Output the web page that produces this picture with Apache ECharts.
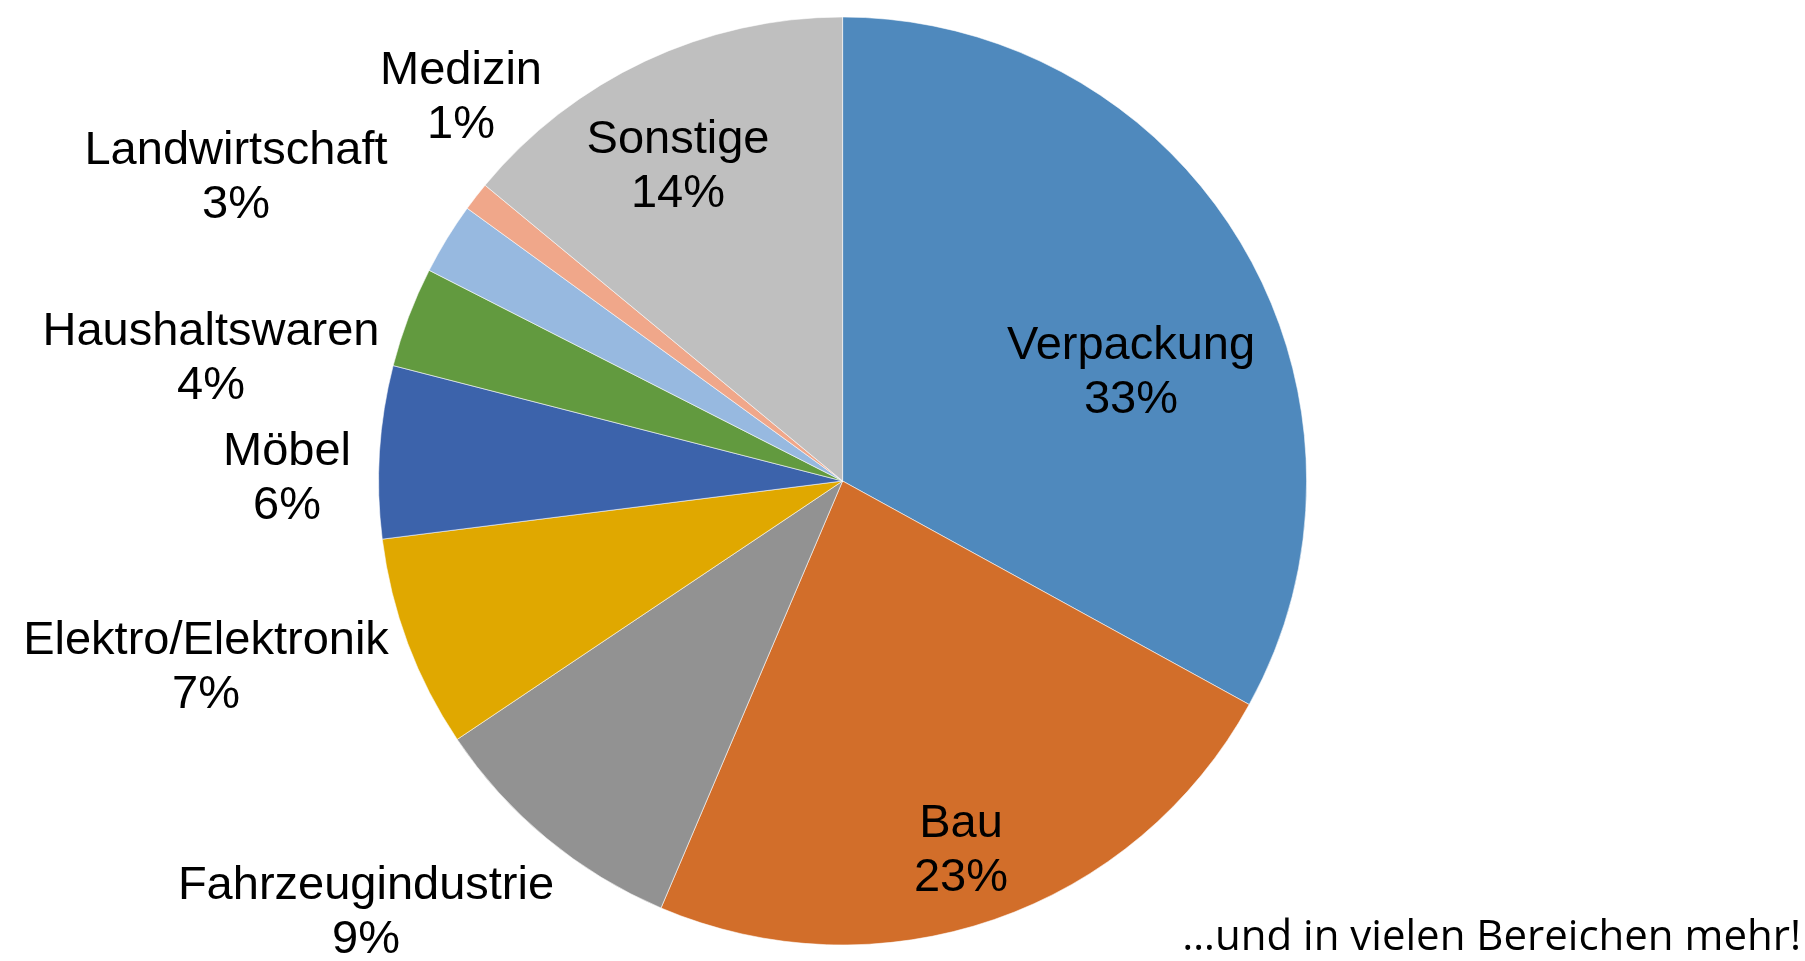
<!DOCTYPE html>
<html>
<head>
<meta charset="utf-8">
<script src="https://cdn.jsdelivr.net/npm/echarts@6/dist/echarts.min.js"></script>
<style>
  html, body { margin: 0; padding: 0; background: #fff; }
  #chart { width: 1805px; height: 961px; }
</style>
</head>
<body>
<div id="chart"></div>
<script>
// Anteile je Branche (im Uhrzeigersinn ab 12 Uhr)
var categories = ['Verpackung', 'Bau', 'Fahrzeugindustrie', 'Elektro/Elektronik', 'Möbel',
                  'Haushaltswaren', 'Landwirtschaft', 'Medizin', 'Sonstige'];
var shares = [33.0, 23.4, 9.2, 7.4, 6.0, 3.5, 2.5, 1.0, 14.0];
var footnote = '…und in vielen Bereichen mehr!';

var colors = ['#4F89BD', '#D26E2A', '#929292', '#E0A800', '#3C63AB',
              '#629A3F', '#97B9E0', '#F0A78A', '#BFBFBF'];

// Mittelpunkt der Beschriftungen (Pixel), wie im Original frei platziert
var labelAnchors = [
    [1131, 373], [961, 851], [366, 913], [206, 668], [287, 479],
    [211, 359], [236, 178], [461, 98], [678, 167]
];

var chart = echarts.init(document.getElementById('chart'));

chart.setOption({
    backgroundColor: '#fff',
    animation: false,
    series: [
        {
            type: 'pie',
            center: [842.6, 481],
            radius: 464,
            startAngle: 90,
            clockwise: true,
            data: categories.map(function (name, i) {
                return { name: name, value: shares[i], itemStyle: { color: colors[i] } };
            }),
            itemStyle: {
                borderColor: 'rgba(255,255,255,0.7)',
                borderWidth: 0.8
            },
            label: {
                show: true,
                position: 'inside',
                // gerundete Prozentwerte wie im Original
                formatter: function (p) {
                    return p.name + '\n' + Math.round(p.percent) + '%';
                },
                color: '#000',
                fontFamily: 'Liberation Sans, Arial, sans-serif',
                fontSize: 47,
                lineHeight: 54,
                align: 'center'
            },
            labelLine: { show: false },
            labelLayout: function (params) {
                var p = labelAnchors[params.dataIndex];
                return { x: p[0], y: p[1], align: 'center', verticalAlign: 'middle' };
            },
            emphasis: { disabled: true }
        }
    ],
    graphic: [
        {
            type: 'text',
            right: 4,
            bottom: 2,
            style: {
                text: footnote,
                fill: '#000',
                font: '42px "Open Sans", sans-serif'
            }
        }
    ]
});
</script>
</body>
</html>
